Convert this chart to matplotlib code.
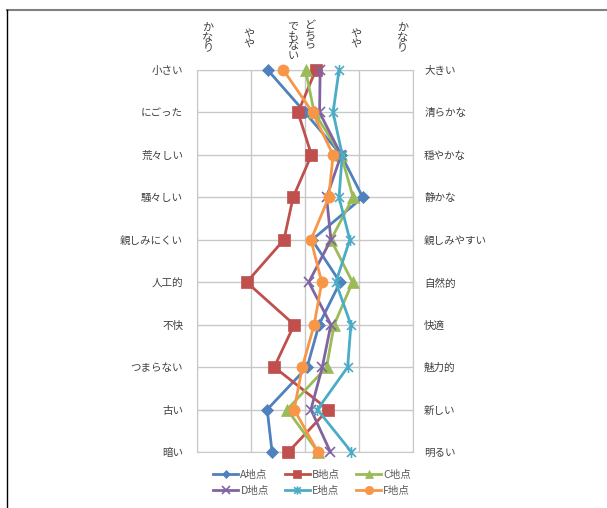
import matplotlib
matplotlib.use("Agg")
import matplotlib.pyplot as plt
from matplotlib.path import Path
from matplotlib.lines import Line2D

plt.rcParams['font.family'] = ['Noto Sans CJK JP', 'DejaVu Sans']

left_labels = ['小さい', 'にごった', '荒々しい', '騒々しい', '親しみにくい',
               '人工的', '不快', 'つまらない', '古い', '暗い']
right_labels = ['大きい', '清らかな', '穏やかな', '静かな', '親しみやすい',
                '自然的', '快適', '魅力的', '新しい', '明るい']
scale_labels = ['かなり', 'やや', 'どちら|でもない', 'やや', 'かなり']
scale_values = [-2, -1, 0, 1, 2]

series_names = ['A地点', 'B地点', 'C地点', 'D地点', 'E地点', 'F地点']
site_a = [-0.69, 0.00, 0.67, 1.07, 0.13, 0.65, 0.26, 0.04, -0.70, -0.61]
site_b = [0.20, -0.13, 0.12, -0.22, -0.39, -1.08, -0.20, -0.57, 0.43, -0.31]
site_c = [0.01, 0.17, 0.67, 0.89, 0.48, 0.88, 0.54, 0.40, -0.33, 0.24]
site_d = [0.28, 0.27, 0.67, 0.40, 0.48, 0.07, 0.48, 0.32, 0.11, 0.47]
site_e = [0.63, 0.52, 0.69, 0.63, 0.83, 0.57, 0.85, 0.79, 0.23, 0.86]
site_f = [-0.40, 0.14, 0.52, 0.44, 0.11, 0.31, 0.17, -0.05, -0.20, 0.24]
series_values = [site_a, site_b, site_c, site_d, site_e, site_f]

colors = ['#4F81BD', '#C0504D', '#9BBB59', '#8064A2', '#4BACC6', '#F79646']

# star marker: an x with a vertical bar through it
star = Path([(-1, -1), (1, 1), (-1, 1), (1, -1), (0, -1.25), (0, 1.25)],
            [Path.MOVETO, Path.LINETO, Path.MOVETO, Path.LINETO, Path.MOVETO, Path.LINETO])
markers = ['D', 's', '^', 'x', star, 'o']
msizes = [6, 8, 8, 7, 8, 8]

fig = plt.figure(figsize=(6.07, 5.08), dpi=100)
ax = fig.add_axes([197 / 607, 56 / 508, 216 / 607, 382 / 508])

rows = list(range(len(left_labels)))
for name, vals, c, m, ms in zip(series_names, series_values, colors, markers, msizes):
    filled = m not in ('x',) and not isinstance(m, Path)
    ax.plot(vals, rows, color=c, lw=2, marker=m, ms=ms,
            markerfacecolor=c if filled else 'none', markeredgecolor=c,
            markeredgewidth=1.2 if not filled else 0.5,
            clip_on=False, zorder=3, label=name)

ax.set_xlim(-2, 2)
ax.set_ylim(len(rows) - 1, 0)
ax.set_xticks(scale_values)
ax.set_yticks(rows)
ax.grid(True, color='#c8c8c8', lw=1)
for s in ax.spines.values():
    s.set_color('#c8c8c8')
ax.tick_params(length=0, labelbottom=False)
ax.set_yticklabels(left_labels, fontsize=7.6, color='#404040')
ax.tick_params(axis='y', pad=10)

ax2 = ax.twinx()
ax2.set_ylim(ax.get_ylim())
ax2.set_yticks(rows)
ax2.set_yticklabels(right_labels, fontsize=7.6, color='#404040')
ax2.tick_params(length=0, pad=8)
for s in ax2.spines.values():
    s.set_visible(False)

# vertical scale labels above the plot (columns read right to left)
trans = ax.get_xaxis_transform()
label_x = [[-1.8], [-1.04], [0.09, -0.22], [0.94], [1.8]]
label_y = [[1.085], [1.08], [1.09, 1.075], [1.08], [1.085]]
for lab, xs, ys in zip(scale_labels, label_x, label_y):
    for col, x, y in zip(lab.split('|'), xs, ys):
        ax.text(x, y, '\n'.join(col), transform=trans, ha='center', va='center',
                fontsize=8, color='#404040', linespacing=0.95)

# legend below the plot
handles, labels = ax.get_legend_handles_labels()
order = [0, 3, 1, 4, 2, 5]
leg = fig.legend([handles[i] for i in order], [labels[i] for i in order],
                 ncol=3, loc='center', bbox_to_anchor=(312 / 607, 1 - 483 / 508),
                 frameon=False, fontsize=7.6, handlelength=2.4, handletextpad=0.2,
                 columnspacing=1.5, labelspacing=0.55, markerscale=0.75)
for t in leg.get_texts():
    t.set_color('#595959')

# outer frame lines
fig.add_artist(Line2D([7 / 607, 1], [1 - 9.5 / 508] * 2, color='#808080', lw=1.5))
fig.add_artist(Line2D([7 / 607] * 2, [0, 1 - 9.5 / 508], color='black', lw=1))

fig.savefig('out.png', dpi=100)
